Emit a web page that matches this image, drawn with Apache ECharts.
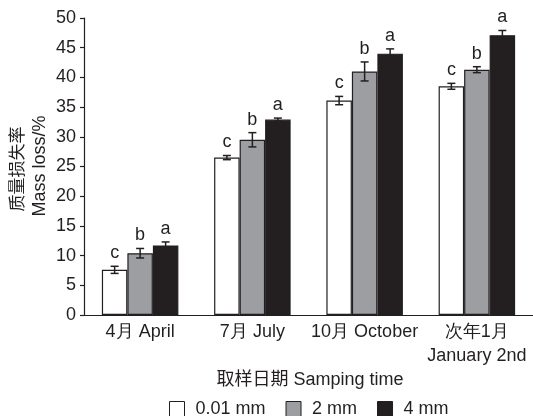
<!DOCTYPE html>
<html>
<head>
<meta charset="utf-8">
<script src="https://cdn.jsdelivr.net/npm/echarts@6/dist/echarts.min.js"></script>
<style>
html,body{margin:0;padding:0;background:#fff;}
#c{width:533px;height:416px;}
</style>
</head>
<body>
<div id="c"></div>
<script>
const categories = ['4月 April', '7月 July', '10月 October', '次年1月\nJanuary 2nd'];
const seriesNames = ['0.01 mm', '2 mm', '4 mm'];
const mass001 = [7.6, 26.5, 36.1, 38.5];
const mass2 = [10.4, 29.5, 41.0, 41.3];
const mass4 = [11.7, 32.9, 44.0, 47.1];
const err001 = [0.6, 0.35, 0.7, 0.5];
const err2 = [0.8, 1.2, 1.6, 0.5];
const err4 = [0.6, 0.25, 0.8, 0.8];
const letters001 = ['c', 'c', 'c', 'c'];
const letters2 = ['b', 'b', 'b', 'b'];
const letters4 = ['a', 'a', 'a', 'a'];
const yTicks = [0, 5, 10, 15, 20, 25, 30, 35, 40, 45, 50];

const INK = '#231f20';
const FONT = '"Liberation Sans", Arial, sans-serif';
const FS = 18;
const BAR_W = 25.5;
const fills = ['#ffffff', '#9d9ea2', '#231f20'];
const values = [mass001, mass2, mass4];
const errs = [err001, err2, err4];
const letters = [letters001, letters2, letters4];

const chart = echarts.init(document.getElementById('c'), null, {renderer: 'canvas'});

const series = [];
seriesNames.forEach((name, i) => {
  series.push({
    name: name,
    type: 'bar',
    data: values[i],
    barWidth: BAR_W,
    barGap: '0%',
    itemStyle: {color: fills[i], borderColor: INK, borderWidth: 1.2},
    emphasis: {disabled: true},
    animation: false
  });
});
seriesNames.forEach((name, i) => {
  const data = values[i].map((v, k) => [k, v, errs[i][k], letters[i][k]]);
  series.push({
    type: 'custom',
    silent: true,
    animation: false,
    data: data,
    z: 5,
    renderItem: function (params, api) {
      const k = api.value(0), v = api.value(1), e = api.value(2);
      const letter = data[params.dataIndex][3];
      const c = api.coord([k, v]);
      const x = c[0] + (i - 1) * BAR_W;
      const yt = api.coord([k, v + e])[1];
      const yb = api.coord([k, v - e])[1];
      const hw = 4;
      const st = {stroke: INK, lineWidth: 1.5};
      return {
        type: 'group',
        children: [
          {type: 'line', shape: {x1: x, y1: yt, x2: x, y2: yb}, style: st},
          {type: 'line', shape: {x1: x - hw, y1: yt, x2: x + hw, y2: yt}, style: st},
          {type: 'line', shape: {x1: x - hw, y1: yb, x2: x + hw, y2: yb}, style: st},
          {type: 'text', x: x, y: yt - 4, style: {text: letter, fill: INK, font: FS + 'px ' + FONT, align: 'center', verticalAlign: 'bottom'}}
        ]
      };
    }
  });
});

chart.setOption({
  backgroundColor: '#fff',
  animation: false,
  grid: {left: 84, right: -3, top: 18, bottom: 101, containLabel: false},
  xAxis: {
    type: 'category',
    data: categories,
    axisLine: {lineStyle: {color: INK, width: 1.2}},
    axisTick: {inside: true, length: 5, lineStyle: {color: INK, width: 1.2}},
    axisLabel: {color: INK, fontSize: FS, fontFamily: FONT, margin: 5, lineHeight: 24, interval: 0}
  },
  yAxis: {
    type: 'value',
    min: 0, max: 50, interval: 5,
    axisLine: {show: true, lineStyle: {color: INK, width: 1.2}},
    axisTick: {show: true, length: 4, lineStyle: {color: INK, width: 1.2}},
    splitLine: {show: false},
    axisLabel: {color: INK, fontSize: FS, fontFamily: FONT, margin: 8,
      formatter: function (v) { return yTicks.indexOf(v) >= 0 ? String(v) : ''; }}
  },
  legend: {
    top: 400,
    left: 169,
    padding: 0,
    itemWidth: 15, itemHeight: 15, itemGap: 20,
    textStyle: {color: INK, fontSize: FS, fontFamily: FONT, padding: [0, 0, 0, 6]},
    data: seriesNames.map((n, i) => ({name: n, icon: 'rect', itemStyle: {color: fills[i], borderColor: INK, borderWidth: 1}}))
  },
  graphic: [
    {type: 'text', x: 310, y: 380, style: {text: '取样日期 Samping time', fill: INK, font: FS + 'px ' + FONT + ', "Noto Sans CJK SC"', align: 'center', verticalAlign: 'middle'}},
    {type: 'text', x: 17, y: 169, rotation: Math.PI / 2, style: {text: '质量损失率', fill: INK, font: '17px "Noto Sans CJK SC"', align: 'center', verticalAlign: 'middle'}},
    {type: 'text', x: 40, y: 166, rotation: Math.PI / 2, style: {text: 'Mass loss/%', fill: INK, font: FS + 'px ' + FONT, align: 'center', verticalAlign: 'middle'}}
  ],
  series: series
});
</script>
</body>
</html>
